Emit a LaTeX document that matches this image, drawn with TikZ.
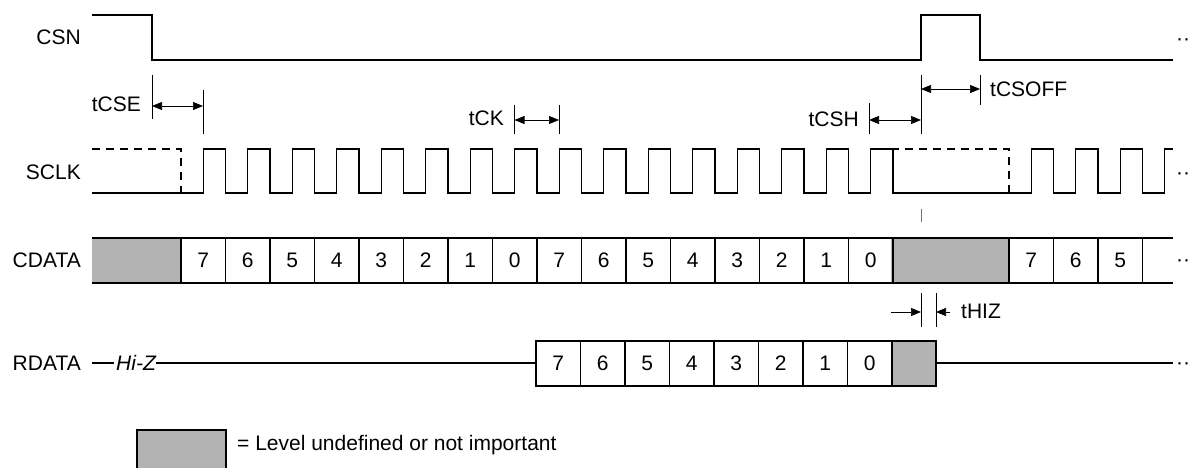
\documentclass[tikz,border=0pt]{standalone}
\usepackage{fontspec}
\setmainfont{Liberation Sans}
\usetikzlibrary{arrows.meta}
\definecolor{undef}{RGB}{179,179,179}
\tikzset{
  wave/.style={line width=1.4pt, line join=miter},
  dashwave/.style={wave, dash pattern=on 8pt off 6pt},
  dimline/.style={line width=0.7pt},
  dimarrow/.style={line width=0.7pt, {Triangle[length=10pt,width=8pt]}-{Triangle[length=10pt,width=8pt]}},
  onearrow/.style={line width=0.7pt, -{Triangle[length=10pt,width=8pt]}},
  lbl/.style={inner sep=0pt, font=\fontsize{21}{25}\selectfont},
  undefbox/.style={fill=undef},
}
\begin{document}
\begin{tikzpicture}[x=1pt,y=-1pt]
\useasboundingbox (0,0) rectangle (1189,468);

% signal labels
\node[lbl, anchor=base east] (lcsn) at (81,45) {CSN};
\node[lbl, anchor=base east] (lsclk) at (81,179) {SCLK};
\node[lbl, anchor=base east] (lcdata) at (81,267) {CDATA};
\node[lbl, anchor=base east] (lrdata) at (81,370) {RDATA};

% continuation dots
\foreach \yy/\nm in {46/d1,179/d2,266/d3,369/d4}
  \node[lbl, anchor=base] (\nm) at (1183,\yy) {··};

% CSN
\draw[wave] (92,15) -- (152,15) -- (152,60) -- (921,60) -- (921,15) -- (980,15) -- (980,60) -- (1173,60);

% SCLK
\draw[dashwave] (92,149) -- (181,149) -- (181,193);
\draw[dashwave] (891,149) -- (1009,149) -- (1009,193);
\draw[wave] (92,193)
  foreach \k in {0,...,15} {
    -- ({203.25+44.5*\k},193) -- ({203.25+44.5*\k},149)
    -- ({225.5+44.5*\k},149) -- ({225.5+44.5*\k},193) }
  foreach \k in {0,1,2} {
    -- ({1031.25+44.5*\k},193) -- ({1031.25+44.5*\k},149)
    -- ({1053.5+44.5*\k},149) -- ({1053.5+44.5*\k},193) }
  -- (1164.75,193) -- (1164.75,149) -- (1173,149);

% tCSE
\coordinate (cseA) at (152,106);
\coordinate (cseB) at (203,106);
\draw[dimline] (152,75) -- (152,119);
\draw[dimline] (203,90) -- (203,134);
\draw[dimarrow] (cseA) -- (cseB);
\node[lbl, anchor=base east] (tcse) at (141,112) {tCSE};

% tCK
\coordinate (ckA) at (514.5,120);
\coordinate (ckB) at (559,120);
\draw[dimline] (514.5,105) -- (514.5,134);
\draw[dimline] (559,105) -- (559,134);
\draw[dimarrow] (ckA) -- (ckB);
\node[lbl, anchor=base east] (tck) at (504,126) {tCK};

% tCSH
\coordinate (cshA) at (869,120);
\coordinate (cshB) at (921,120);
\draw[dimline] (869,103) -- (869,134);
\draw[dimline] (921,75) -- (921,134);
\draw[dimarrow] (cshA) -- (cshB);
\node[lbl, anchor=base east] (tcsh) at (859,127) {tCSH};

% tCSOFF
\coordinate (csoA) at (921,89);
\coordinate (csoB) at (980,89);
\draw[dimline] (980,75) -- (980,105);
\draw[dimarrow] (csoA) -- (csoB);
\node[lbl, anchor=base west] (tcsoff) at (990,97) {tCSOFF};

% small tick
\draw[line width=0.7pt, black!55] (921,209) -- (921,222);

% CDATA
\fill[undef] (92,238) rectangle (181,283);
\fill[undef] (891,238) rectangle (1009,283);
\draw[wave] (92,238) -- (1173,238);
\draw[wave] (92,283) -- (1173,283);
\foreach \i in {0,...,16}
  \draw[wave] ({181+44.5*\i},238) -- ++(0,45);
\foreach \i in {0,...,3}
  \draw[wave] ({1009+44.5*\i},238) -- ++(0,45);
\foreach \d [count=\i from 0] in {7,6,5,4,3,2,1,0,7,6,5,4,3,2,1,0}
  \node[lbl] (c\i) at ({203.25+44.5*\i},260.5) {\d};
\foreach \d [count=\i from 0] in {7,6,5}
  \node[lbl] (e\i) at ({1031.25+44.5*\i},260.5) {\d};

% tHIZ
\coordinate (hzL) at (891,312);
\coordinate (hzA) at (921,312);
\coordinate (hzR) at (950,312);
\coordinate (hzB) at (936,312);
\draw[dimline] (921,293) -- (921,327);
\draw[dimline] (936,293) -- (936,327);
\draw[onearrow] (hzL) -- (hzA);
\draw[onearrow] (hzR) -- (hzB);
\node[lbl, anchor=base west] (thiz) at (961,318) {tHIZ};

% RDATA
\node[lbl, anchor=base west, font=\fontsize{21}{25}\selectfont\itshape] (hiz) at (116,370) {Hi-Z};
\draw[wave] (92,363) -- (114,363);
\draw[wave] (hiz.east |- 0,363) -- (536,363);
\fill[undef] (891,341) rectangle (936,386);
\draw[wave] (536,341) rectangle (936,386);
\foreach \i in {1,...,8}
  \draw[wave] ({536+44.5*\i},341) -- ++(0,45);
\foreach \d [count=\i from 0] in {7,6,5,4,3,2,1,0}
  \node[lbl] (r\i) at ({558.25+44.5*\i},363.5) {\d};
\draw[wave] (936,363) -- (1173,363);

% legend
\draw[wave, fill=undef] (137,430) rectangle (226,480);
\node[lbl, anchor=base west] (legend) at (237,450) {= Level undefined or not important};
\end{tikzpicture}
\end{document}
